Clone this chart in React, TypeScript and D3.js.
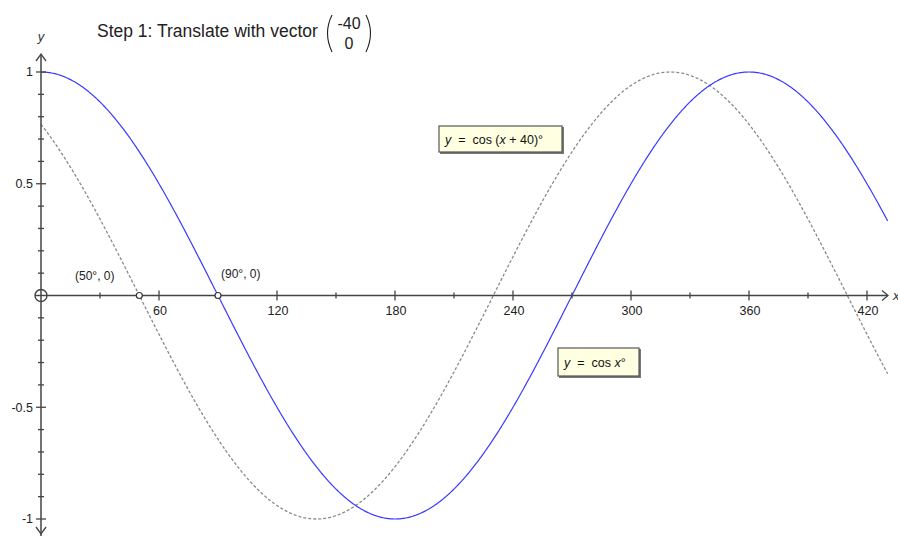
import React from "react";
import * as d3 from "d3";

const W = 898;
const H = 536;

// data
const shiftDeg = [0, 40]; // cos(x + shift)
const xDomain = [0, 420];
const yDomain = [-1, 1];
const xMajorTicks = [60, 120, 180, 240, 300, 360, 420];
const xMinorTicks = [30, 90, 150, 210, 270, 330, 390];
const yMajorTicks = [-1, -0.5, 0.5, 1];
const yMinorTicks = [-0.9, -0.8, -0.7, -0.6, -0.4, -0.3, -0.2, -0.1, 0.1, 0.2, 0.3, 0.4, 0.6, 0.7, 0.8, 0.9];
const yTickLabels = ["-1", "-0.5", "0.5", "1"];
const points = [
  { x: 50, label: "(50°, 0)" },
  { x: 90, label: "(90°, 0)" },
];
const xEnd = 430.5;

export default function App() {
  const x = d3.scaleLinear().domain(xDomain).range([41, 867]);
  const y = d3.scaleLinear().domain(yDomain).range([519, 72]);
  const samples = d3.range(0, xEnd + 0.01, 0.5);

  const curve = (shift: number) =>
    d3
      .line<number>()
      .x((d) => x(d))
      .y((d) => y(Math.cos(((d + shift) * Math.PI) / 180)))(samples) || "";

  const axisColor = "#444";
  const font = "'Liberation Sans', Arial, sans-serif";
  const x0 = x(0);
  const y0 = y(0);
  const pre = { whiteSpace: "pre" as const };

  return (
    <svg
      width={W}
      height={H}
      style={{ position: "absolute", left: 0, top: 0, background: "#fff" }}
      fontFamily={font}
    >
      {/* curves */}
      <path d={curve(shiftDeg[1])} fill="none" stroke="#8a8a8a" strokeWidth={1.3} strokeDasharray="3,2" />
      <path d={curve(shiftDeg[0])} fill="none" stroke="#3a3aff" strokeWidth={1.2} />

      {/* x axis */}
      <line x1={x0 + 6} y1={y0} x2={888} y2={y0} stroke={axisColor} strokeWidth={1.5} />
      <path d={`M${882},${y0 - 5} L${888},${y0} L${882},${y0 + 5}`} fill="none" stroke={axisColor} strokeWidth={1.3} />
      {/* y axis */}
      <line x1={x0} y1={54} x2={x0} y2={536} stroke={axisColor} strokeWidth={1.5} />
      <path d={`M${x0 - 5},${61} L${x0},${54} L${x0 + 5},${61}`} fill="none" stroke={axisColor} strokeWidth={1.3} />
      <path d={`M${x0 - 5},${527} L${x0},${534} L${x0 + 5},${527}`} fill="none" stroke={axisColor} strokeWidth={1.3} />
      {/* origin */}
      <circle cx={x0} cy={y0} r={6} fill="none" stroke={axisColor} strokeWidth={1.4} />
      <line x1={x0 - 6} y1={y0} x2={x0 + 6} y2={y0} stroke={axisColor} strokeWidth={1.4} />

      {/* x ticks */}
      {xMajorTicks.map((t) => (
        <g key={"xM" + t}>
          <line x1={x(t)} x2={x(t)} y1={y0 - 5} y2={y0 + 5} stroke={axisColor} strokeWidth={1.3} />
          <text x={x(t) + 1} y={y0 + 19} fontSize={12.5} textAnchor="middle" fill="#222">
            {t}
          </text>
        </g>
      ))}
      {xMinorTicks.map((t) => (
        <line key={"xm" + t} x1={x(t)} x2={x(t)} y1={y0 - 3} y2={y0 + 3} stroke={axisColor} strokeWidth={1.3} />
      ))}
      {/* y ticks */}
      {yMajorTicks.map((t, i) => (
        <g key={"yM" + t}>
          <line x1={x0 - 5} x2={x0 + 5} y1={y(t)} y2={y(t)} stroke={axisColor} strokeWidth={1.3} />
          <text x={x0 - 8} y={y(t)} dy="0.35em" fontSize={12.5} textAnchor="end" fill="#222">
            {yTickLabels[i]}
          </text>
        </g>
      ))}
      {yMinorTicks.map((t) => (
        <line key={"ym" + t} x1={x0 - 3} x2={x0 + 3} y1={y(t)} y2={y(t)} stroke={axisColor} strokeWidth={1.3} />
      ))}

      {/* axis labels */}
      <text x={x0} y={41} fontSize={13} fontStyle="italic" textAnchor="middle" fill="#333">
        y
      </text>
      <text x={893} y={y0 + 4} fontSize={13} fontStyle="italic" fill="#333">
        x
      </text>

      {/* points */}
      {points.map((p) => (
        <circle key={p.label} cx={x(p.x)} cy={y0} r={3} fill="#fff" stroke="#333" strokeWidth={1.2} />
      ))}
      <text x={75} y={280} fontSize={12} fill="#222" style={pre}>{points[0].label}</text>
      <text x={221} y={278} fontSize={12} fill="#222" style={pre}>{points[1].label}</text>

      {/* title */}
      <text x={97} y={37} fontSize={17.5} fill="#222">
        Step 1: Translate with vector
      </text>
      <path d="M332,15 Q323,33 332,52" fill="none" stroke="#222" strokeWidth={1.1} />
      <path d="M366,15 Q375,33 366,52" fill="none" stroke="#222" strokeWidth={1.1} />
      <text x={349} y={29} fontSize={16} textAnchor="middle" fill="#222">-40</text>
      <text x={349} y={49} fontSize={16} textAnchor="middle" fill="#222">0</text>

      {/* label boxes */}
      <rect x={440} y={127} width={124} height={27} fill="#777" />
      <rect x={439} y={126} width={123} height={26} fill="#ffffe1" stroke="#555" strokeWidth={1.2} />
      <text x={445} y={144} fontSize={12.5} fill="#111" style={pre}>
        <tspan fontStyle="italic">y</tspan>
        <tspan>{"  =  cos ("}</tspan>
        <tspan fontStyle="italic">x</tspan>
        <tspan>{" + 40)°"}</tspan>
      </text>

      <rect x={559} y={349} width={82} height={29} fill="#777" />
      <rect x={558} y={348} width={81} height={28} fill="#ffffe1" stroke="#555" strokeWidth={1.2} />
      <text x={564} y={367} fontSize={12.5} fill="#111" style={pre}>
        <tspan fontStyle="italic">y</tspan>
        <tspan>{"  =  cos "}</tspan>
        <tspan fontStyle="italic">x</tspan>
        <tspan>°</tspan>
      </text>
    </svg>
  );
}
